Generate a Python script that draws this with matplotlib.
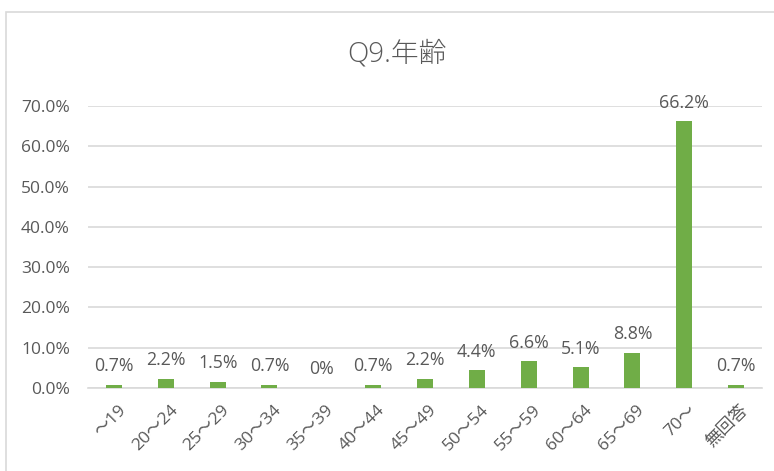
import matplotlib.pyplot as plt
from matplotlib.patches import Rectangle
import matplotlib.transforms as mtransforms
import numpy as np

plt.rcParams['font.family'] = ['Open Sans', 'Noto Sans CJK JP', 'DejaVu Sans']

categories = ['～19', '20～24', '25～29', '30～34', '35～39', '40～44', '45～49',
              '50～54', '55～59', '60～64', '65～69', '70～', '無回答']
values = [0.7, 2.2, 1.5, 0.7, 0.0, 0.7, 2.2, 4.4, 6.6, 5.1, 8.8, 66.2, 0.7]
labels = ['0.7%', '2.2%', '1.5%', '0.7%', '0%', '0.7%', '2.2%',
          '4.4%', '6.6%', '5.1%', '8.8%', '66.2%', '0.7%']
yticks = [0, 10, 20, 30, 40, 50, 60, 70]

text_color = '#595959'
bar_color = '#70AD47'

fig = plt.figure(figsize=(7.74, 4.71), dpi=100)
fig.patches.append(Rectangle((6 / 774, -0.1), 1.1, 1.1 - 12 / 471,
                             transform=fig.transFigure, fill=False,
                             edgecolor='#D9D9D9', linewidth=1.2))

ax = fig.add_axes([88 / 774, 1 - 388 / 471, 674 / 774, (388 - 106) / 471])
x = np.arange(len(categories))
ax.bar(x, values, width=0.31, color=bar_color, zorder=3)

for xi, v, lab in zip(x, values, labels):
    ax.annotate(lab, (xi, v), xytext=(0, 7), textcoords='offset points',
                ha='center', va='bottom', fontsize=12.8, color=text_color)

ax.set_xlim(-0.5, len(categories) - 0.5)
ax.set_ylim(0, 70)
ax.set_yticks(yticks)
ax.set_yticklabels([f'{t:.1f}%' for t in yticks], fontsize=12.5, color=text_color)
ax.set_xticks(x)
ax.set_xticklabels(categories, rotation=45, ha='right', rotation_mode='anchor',
                   fontsize=12.5, color=text_color)
ax.tick_params(axis='y', length=0, pad=13)
ax.tick_params(axis='x', length=0, pad=10)
shift = mtransforms.ScaledTranslation(4 / 100, 0, fig.dpi_scale_trans)
for lbl in ax.get_xticklabels():
    lbl.set_transform(lbl.get_transform() + shift)
ax.grid(axis='y', color='#D9D9D9', linewidth=1.2, zorder=0)
for s in ['top', 'right', 'left']:
    ax.spines[s].set_visible(False)
ax.spines['bottom'].set_color('#D9D9D9')
ax.spines['bottom'].set_linewidth(1.2)
ax.spines['bottom'].set_zorder(1)

fig.text(397 / 774, 1 - 55 / 471, 'Q9.年齢', ha='center', va='center',
         fontsize=20, color=text_color, fontweight='light')

fig.savefig('out.png', dpi=100)
